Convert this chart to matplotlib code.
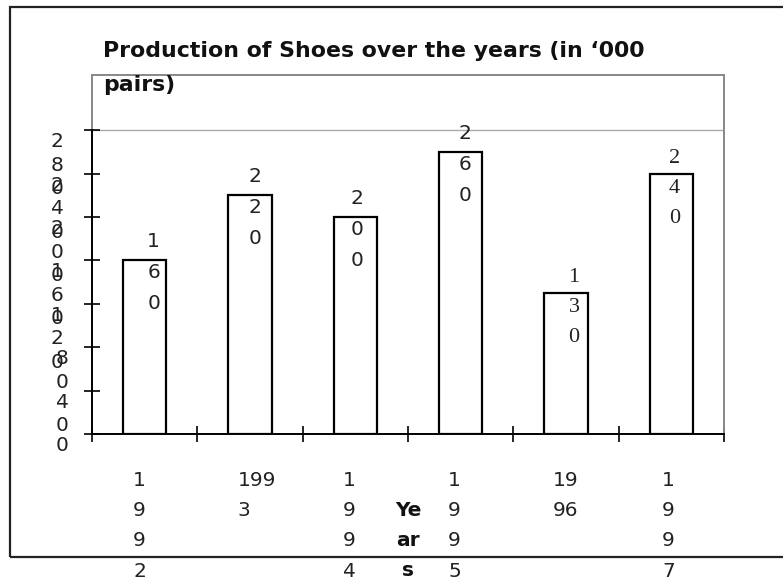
import matplotlib
matplotlib.use("Agg")
import matplotlib.pyplot as plt
from matplotlib.patches import Rectangle
from matplotlib.transforms import offset_copy

# ---- data ----
years = ["1992", "1993", "1994", "1995", "1996", "1997"]
production = [160, 220, 200, 260, 130, 240]
year_labels = ["1\n9\n9\n2", "199\n3", "1\n9\n9\n4", "1\n9\n9\n5", "19\n96", "1\n9\n9\n7"]
value_labels = ["1\n6\n0", "2\n2\n0", "2\n0\n0", "2\n6\n0", "1\n3\n0", "2\n4\n0"]
ytick_values = [0, 40, 80, 120, 160, 200, 240, 280]
ytick_labels = ["0", "4\n0", "8\n0", "1\n2\n0", "1\n6\n0", "2\n0\n0", "2\n4\n0", "2\n8\n0"]
title = "Production of Shoes over the years (in \u2018000\npairs)"
xlabel = "Ye\nar\ns"

# ---- styling ----
SANS = "DejaVu Sans"
SERIF = "Liberation Serif"
value_fonts = [SANS, SANS, SANS, SANS, SERIF, SERIF]
value_dx = [9, 5, 2, 4, 8, 3]          # px offsets of value labels
year_dx = [-5, 7, -6, -6, 0, -3]        # px offsets of year labels

W, H = 783, 581
fig = plt.figure(figsize=(W / 100, H / 100), dpi=100)
fig.patch.set_facecolor("white")

# outer frame
fig.patches.append(Rectangle((10 / W, (H - 557) / H), 1.2, (557 - 7) / H,
                             transform=fig.transFigure, fill=False,
                             edgecolor="#222222", linewidth=1.6, zorder=0))

ax = fig.add_axes([92 / W, (H - 434) / H, (724 - 92) / W, (434 - 75) / H])
ax.set_facecolor("none")
x = list(range(len(years)))
ax.bar(x, production, width=0.41, color="white", edgecolor="black",
       linewidth=1.6, zorder=3)
ax.set_xlim(-0.5, len(years) - 0.5)
ax.set_ylim(0, 331)

# spines
for s in ("top", "right"):
    ax.spines[s].set_color("#888888")
    ax.spines[s].set_linewidth(1.4)
ax.spines["left"].set_color("black")
ax.spines["left"].set_linewidth(1.4)
ax.spines["left"].set_bounds(0, 280)
ax.spines["bottom"].set_color("black")
ax.spines["bottom"].set_linewidth(1.4)
ax.plot([0, 0], [280, 331], transform=ax.get_yaxis_transform(), color="#888888",
        linewidth=1.4, clip_on=False, zorder=2)
ax.axhline(280, color="#aaaaaa", linewidth=1.0, zorder=1)

ax.set_yticks(ytick_values)
ax.set_yticklabels([])
ax.set_xticks([i - 0.5 for i in range(len(years) + 1)])
ax.set_xticklabels([])
ax.tick_params(axis="both", direction="inout", length=11, width=1.2, color="black")

# y tick labels (stacked digits)
for v, lab in zip(ytick_values, ytick_labels):
    nd = lab.count("\n") + 1
    xp = 57 if nd == 3 else 62
    tr = offset_copy(ax.get_yaxis_transform(), fig=fig, x=xp - 92, y=-2, units="dots")
    ax.text(0, v, lab, transform=tr, ha="center", va="top", fontsize=14.5,
            family=SANS, linespacing=1.3, color="#222222")

# value labels
for i, (v, lab, fam) in enumerate(zip(production, value_labels, value_fonts)):
    fs = 14.5 if fam == SANS else 16
    dy = 28 if fam == SANS else 25
    tr = offset_copy(ax.transData, fig=fig, x=value_dx[i], y=dy, units="dots")
    ax.text(i, v, lab, transform=tr, ha="center", va="top", fontsize=fs,
            family=fam, linespacing=1.8, color="#222222", zorder=4)

# year labels
for i, lab in enumerate(year_labels):
    tr = offset_copy(ax.get_xaxis_transform(), fig=fig, x=year_dx[i], y=-37, units="dots")
    ax.text(i, 0, lab, transform=tr, ha="center", va="top", fontsize=14.5,
            family=SANS, linespacing=1.75, multialignment="left", color="#222222",
            clip_on=False)

# axis label
trl = offset_copy(ax.transAxes, fig=fig, x=0, y=-67, units="dots")
ax.text(0.5, 0, xlabel, transform=trl, ha="center", va="top", fontsize=14.5,
        family=SANS, fontweight="bold", linespacing=1.75, color="#111111")

# title
fig.text(103 / W, (H - 41) / H, title, ha="left", va="top", fontsize=15.8,
         family=SANS, fontweight="bold", linespacing=1.85, color="#111111")

fig.savefig("out.png", dpi=100)
